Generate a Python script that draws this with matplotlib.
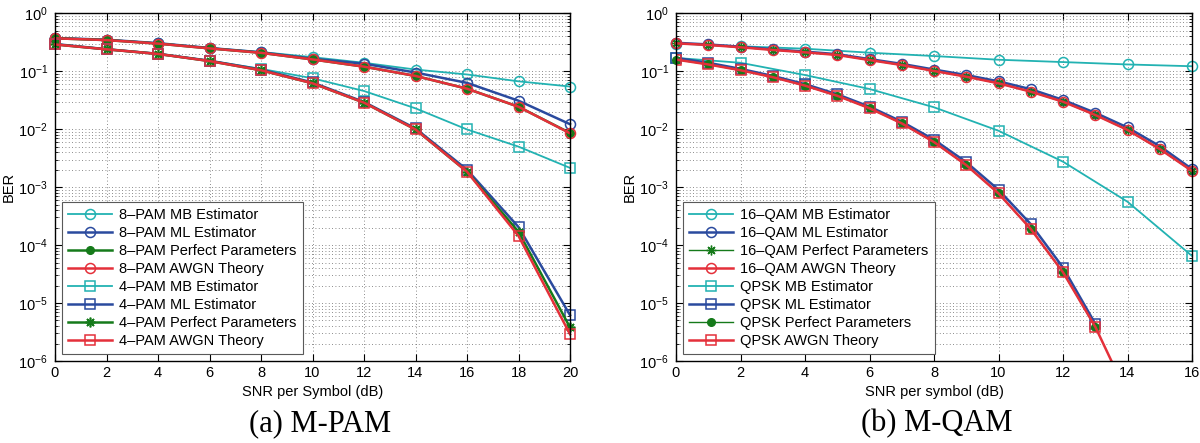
import numpy as np
import matplotlib
matplotlib.use("Agg")
import matplotlib.pyplot as plt
from matplotlib.ticker import LogLocator, NullFormatter, MultipleLocator

plt.rcParams['font.family'] = ['Liberation Sans', 'DejaVu Sans']
plt.rcParams['mathtext.fontset'] = 'custom'
plt.rcParams['mathtext.rm'] = 'Liberation Sans'

# ---------------- M-PAM data ----------------
snr_pam = [0, 2, 4, 6, 8, 10, 12, 14, 16, 18, 20]
pam8_mb = [0.375, 0.35, 0.305, 0.252, 0.215, 0.175, 0.14, 0.107, 0.088, 0.067, 0.0545]
pam8_ml = [0.375, 0.35, 0.305, 0.252, 0.212, 0.165, 0.135, 0.095, 0.063, 0.031, 0.0122]
pam8_pp = [0.37, 0.345, 0.30, 0.248, 0.208, 0.16, 0.12, 0.083, 0.050, 0.0244, 0.0086]
pam8_th = [0.37, 0.345, 0.30, 0.248, 0.208, 0.16, 0.12, 0.083, 0.050, 0.0244, 0.0085]
pam4_mb = [0.295, 0.24, 0.20, 0.152, 0.11, 0.0756, 0.0456, 0.0229, 0.0099, 0.0050, 0.00215]
pam4_ml = [0.295, 0.24, 0.20, 0.152, 0.107, 0.064, 0.0295, 0.0103, 0.00200, 2.05e-4, 6.2e-6]
pam4_pp = [0.29, 0.239, 0.199, 0.150, 0.104, 0.062, 0.0287, 0.0099, 0.00185, 1.7e-4, 3.8e-6]
pam4_th = [0.29, 0.239, 0.199, 0.150, 0.104, 0.062, 0.0287, 0.0099, 0.00185, 1.44e-4, 2.9e-6]

# ---------------- M-QAM data ----------------
snr_qam = [0, 1, 2, 3, 4, 5, 6, 7, 8, 9, 10, 11, 12, 13, 14, 15, 16]
snr_qam_mb = [0, 2, 4, 6, 8, 10, 12, 14, 16]
qam16_mb = [0.30, 0.27, 0.245, 0.209, 0.183, 0.158, 0.144, 0.131, 0.122]
qam16_ml = [0.31, 0.29, 0.265, 0.24, 0.218, 0.197, 0.162, 0.134, 0.107, 0.086,
            0.067, 0.049, 0.032, 0.0192, 0.0107, 0.0051, 0.00205]
qam16_pp = [0.303, 0.284, 0.259, 0.233, 0.212, 0.191, 0.156, 0.128, 0.101, 0.0805,
            0.0619, 0.0444, 0.0298, 0.0176, 0.0097, 0.00455, 0.0019]
qam16_th = [0.303, 0.284, 0.259, 0.233, 0.212, 0.191, 0.156, 0.128, 0.101, 0.0805,
            0.0619, 0.0444, 0.0298, 0.0176, 0.0097, 0.00455, 0.0019]
qpsk_mb = [0.17, 0.14, 0.086, 0.0494, 0.0239, 0.0094, 0.00275, 5.6e-4, 6.5e-5]
snr_qpsk = [0, 1, 2, 3, 4, 5, 6, 7, 8, 9, 10, 11, 12, 13]
qpsk_ml = [0.17, 0.14, 0.11, 0.083, 0.06, 0.04, 0.0245, 0.0135, 0.0066, 0.0027,
           9.0e-4, 2.3e-4, 4.1e-5, 4.4e-6]
qpsk_pp = [0.159, 0.131, 0.104, 0.079, 0.0565, 0.0377, 0.023, 0.0126, 0.006, 0.0024,
           7.8e-4, 1.9e-4, 3.4e-5, 3.9e-6]
snr_qpsk_th = [0, 1, 2, 3, 4, 5, 6, 7, 8, 9, 10, 11, 12, 13, 14]
qpsk_th = [0.159, 0.131, 0.104, 0.079, 0.0565, 0.0377, 0.023, 0.0126, 0.006, 0.0024,
           7.8e-4, 1.9e-4, 3.4e-5, 3.9e-6, 2.6e-7]

C_MB = '#22b2b2'
C_ML = '#2a4a9e'
C_PP = '#157a1a'
C_TH = '#e4303a'
AST = (8, 2, 0)

fig = plt.figure(figsize=(12, 4.43), dpi=100)
ax1 = fig.add_axes([55/1200, 1-361/443, 515/1200, 347.7/443])
ax2 = fig.add_axes([676/1200, 1-361/443, 516/1200, 347.7/443])


def style(ax, xmax, xlabel):
    ax.set_yscale('log')
    ax.set_ylim(1e-6, 1)
    ax.set_xlim(0, xmax)
    ax.xaxis.set_major_locator(MultipleLocator(2))
    ax.yaxis.set_major_locator(LogLocator(base=10, numticks=10))
    ax.yaxis.set_minor_locator(LogLocator(base=10, subs=np.arange(2, 10), numticks=20))
    ax.yaxis.set_minor_formatter(NullFormatter())
    ax.grid(True, which='major', axis='both', linestyle=(0, (1, 3)), color='0.4', lw=0.6)
    ax.grid(True, which='minor', axis='y', linestyle=(0, (1, 3)), color='0.4', lw=0.6)
    ax.tick_params(which='both', direction='in', top=True, right=True, labelsize=10.5)
    ax.tick_params(which='major', length=5, width=0.8)
    ax.tick_params(which='minor', length=2.5, width=0.6)
    ax.tick_params(axis='y', pad=5)
    for s in ax.spines.values():
        s.set_linewidth(1.0)
        s.set_zorder(5)
    ax.set_xlabel(xlabel, fontsize=10.5, labelpad=4)
    ax.set_ylabel('BER', fontsize=10.5)
    ax.yaxis.set_label_coords(-0.077, 0.5)
    ax.set_axisbelow(True)


mk = dict(markersize=7.2, markerfacecolor='none', markeredgewidth=1.1, clip_on=False)
nc = dict(clip_on=False)

# left panel
ax1.plot(snr_pam, pam8_mb, '-', color=C_MB, marker='o', lw=1.3, markeredgecolor=C_MB, label='8–PAM MB Estimator', **mk)
ax1.plot(snr_pam, pam8_ml, '-', color=C_ML, marker='o', lw=1.8, markeredgecolor=C_ML, label='8–PAM ML Estimator', **mk)
ax1.plot(snr_pam, pam8_pp, '-', color=C_PP, marker='o', lw=1.8, markersize=5.5, markerfacecolor=C_PP, markeredgecolor=C_PP, label='8–PAM Perfect Parameters', **nc)
ax1.plot(snr_pam, pam8_th, '-', color=C_TH, marker='o', lw=1.8, markeredgecolor=C_TH, label='8–PAM AWGN Theory', **mk)
ax1.plot(snr_pam, pam4_mb, '-', color=C_MB, marker='s', lw=1.3, markeredgecolor=C_MB, label='4–PAM MB Estimator', **mk)
ax1.plot(snr_pam, pam4_ml, '-', color=C_ML, marker='s', lw=1.8, markeredgecolor=C_ML, label='4–PAM ML Estimator', **mk)
ax1.plot(snr_pam, pam4_pp, '-', color=C_PP, marker=AST, lw=1.8, markersize=7, markeredgecolor=C_PP, markeredgewidth=1.2, label='4–PAM Perfect Parameters', **nc)
ax1.plot(snr_pam, pam4_th, '-', color=C_TH, marker='s', lw=1.8, markeredgecolor=C_TH, label='4–PAM AWGN Theory', **mk)
style(ax1, 20, 'SNR per Symbol (dB)')

# right panel
ax2.plot(snr_qam_mb, qam16_mb, '-', color=C_MB, marker='o', lw=1.3, markeredgecolor=C_MB, label='16–QAM MB Estimator', **mk)
ax2.plot(snr_qam, qam16_ml, '-', color=C_ML, marker='o', lw=1.8, markeredgecolor=C_ML, label='16–QAM ML Estimator', **mk)
ax2.plot(snr_qam, qam16_pp, '-', color=C_PP, marker=AST, lw=1.0, markersize=7, markeredgecolor=C_PP, markeredgewidth=1.0, label='16–QAM Perfect Parameters', **nc)
ax2.plot(snr_qam, qam16_th, '-', color=C_TH, marker='o', lw=1.8, markeredgecolor=C_TH, label='16–QAM AWGN Theory', **mk)
ax2.plot(snr_qam_mb, qpsk_mb, '-', color=C_MB, marker='s', lw=1.3, markeredgecolor=C_MB, label='QPSK MB Estimator', **mk)
ax2.plot(snr_qpsk, qpsk_ml, '-', color=C_ML, marker='s', lw=1.8, markeredgecolor=C_ML, label='QPSK ML Estimator', **mk)
ax2.plot(snr_qpsk, qpsk_pp, '-', color=C_PP, marker='o', lw=1.0, markersize=5.5, markerfacecolor=C_PP, markeredgecolor=C_PP, label='QPSK Perfect Parameters', **nc)
ax2.plot(snr_qpsk_th, qpsk_th, '-', color=C_TH, marker='s', lw=1.8, markeredgecolor=C_TH, markersize=7.2,
         markerfacecolor='none', markeredgewidth=1.1, label='QPSK AWGN Theory')
style(ax2, 16, 'SNR per symbol (dB)')

for ax in (ax1, ax2):
    leg = ax.legend(loc='lower left', fontsize=10.5, handlelength=3.0, handletextpad=0.5,
                    labelspacing=0.27, borderaxespad=0.45, borderpad=0.45,
                    fancybox=False, framealpha=1, edgecolor='0.35')
    leg.get_frame().set_linewidth(0.8)
    leg.set_zorder(10)

fig.text((55 + 570) / 2 / 1200 + 0.006, 1 - 424 / 443, '(a) M-PAM', ha='center', va='center',
         fontsize=22, family='Liberation Serif')
fig.text((676 + 1192) / 2 / 1200 + 0.002, 1 - 424 / 443, '(b) M-QAM', ha='center', va='center',
         fontsize=22, family='Liberation Serif')

fig.savefig('out.png', dpi=100)
